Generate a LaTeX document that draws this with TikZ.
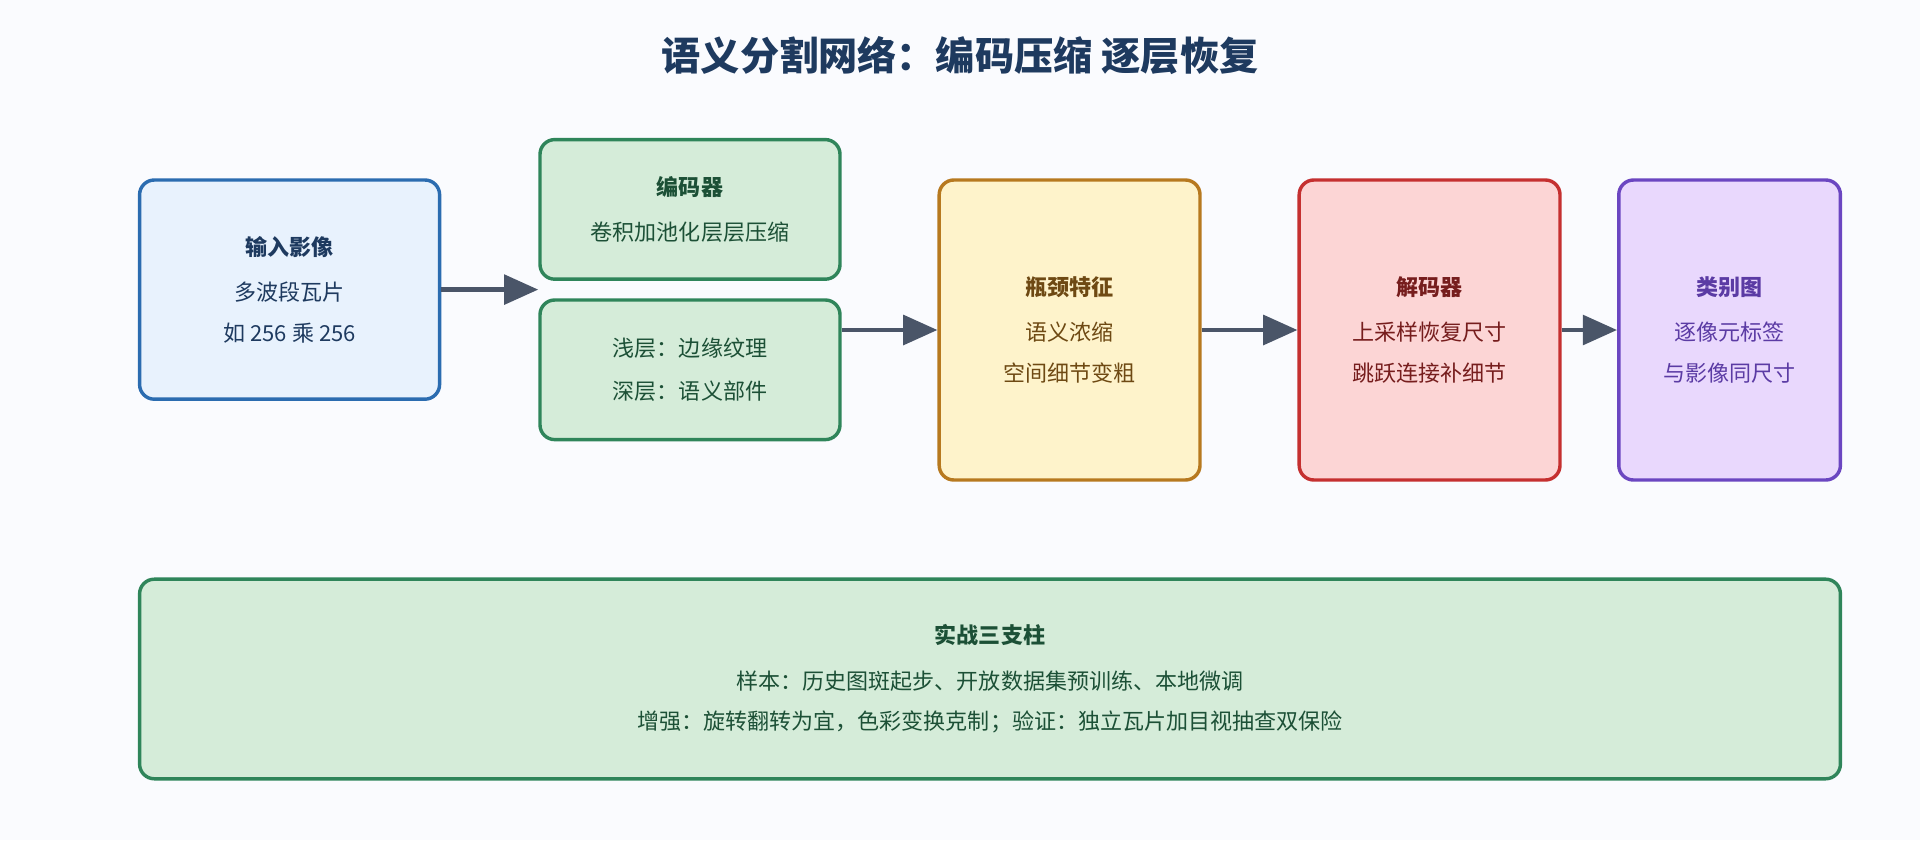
\documentclass[tikz,border=0pt]{standalone}
\usepackage{fontspec}
\setmainfont{Noto Sans CJK SC}
\usetikzlibrary{arrows.meta}
\definecolor{bgc}{HTML}{FAFBFE}
\definecolor{ink}{HTML}{1E3A5F}
\definecolor{arr}{HTML}{4A5568}
\definecolor{bluel}{HTML}{2B6CB0}\definecolor{bluef}{HTML}{E8F2FD}
\definecolor{greenl}{HTML}{2F855A}\definecolor{greenf}{HTML}{D5ECD9}
\definecolor{yell}{HTML}{B7791F}\definecolor{yelf}{HTML}{FEF3CB}
\definecolor{redl}{HTML}{C53030}\definecolor{redf}{HTML}{FCD5D5}
\definecolor{purl}{HTML}{6B46C1}\definecolor{purf}{HTML}{E9D8FD}
\tikzset{
  box/.style={draw=#1l, fill=#1f, line width=1.4pt, rounded corners=6pt,
    align=center, inner sep=0pt, font=\fontsize{9}{16.5}\selectfont},
  flow/.style={-{Triangle[length=14pt,width=12pt]}, draw=arr, line width=2pt},
}
\begin{document}
\begin{tikzpicture}[x=0.5pt,y=-0.5pt]
  \fill[bgc] (0,0) rectangle (1568,686);
  \useasboundingbox (0,0) rectangle (1568,686);

  \node[font=\fontsize{16}{18}\selectfont\bfseries, text=ink] (title) at (784,45) {语义分割网络：编码压缩 逐层恢复};

  \node[box=blue, minimum width=122.5pt, minimum height=89.5pt, text=ink] (input) at (236.5,236.5)
    {\textbf{输入影像}\\[2pt]多波段瓦片\\如 256 乘 256};
  \node[box=green, minimum width=122.5pt, minimum height=57pt, text=greenl!60!black] (enc) at (563.5,171)
    {\textbf{编码器}\\[2pt]卷积加池化层层压缩};
  \node[box=green, minimum width=122.5pt, minimum height=57pt, text=greenl!60!black] (feat) at (563.5,302)
    {浅层：边缘纹理\\[1pt]深层：语义部件};
  \node[box=yel, minimum width=106.5pt, minimum height=122.5pt, text=yell!60!black] (neck) at (873.5,269.5)
    {\textbf{瓶颈特征}\\[2pt]语义浓缩\\空间细节变粗};
  \node[box=red, minimum width=106.5pt, minimum height=122.5pt, text=redl!60!black] (dec) at (1167.5,269.5)
    {\textbf{解码器}\\[2pt]上采样恢复尺寸\\跳跃连接补细节};
  \node[box=pur, minimum width=90.5pt, minimum height=122.5pt, text=purl!85!black] (cls) at (1412.5,269.5)
    {\textbf{类别图}\\[2pt]逐像元标签\\与影像同尺寸};
  \node[box=green, minimum width=694.5pt, minimum height=81.5pt, text=greenl!60!black] (tips) at (808.5,554.5)
    {\textbf{实战三支柱}\\[2pt]样本：历史图斑起步、开放数据集预训练、本地微调\\增强：旋转翻转为宜，色彩变换克制；验证：独立瓦片加目视抽查双保险};

  \draw[flow] (input.east) -- (feat.west |- input.east);
  \draw[flow] (feat.east |- neck.west) -- (neck.west);
  \draw[flow] (neck) -- (dec);
  \draw[flow] (dec) -- (cls);
\end{tikzpicture}
\end{document}
